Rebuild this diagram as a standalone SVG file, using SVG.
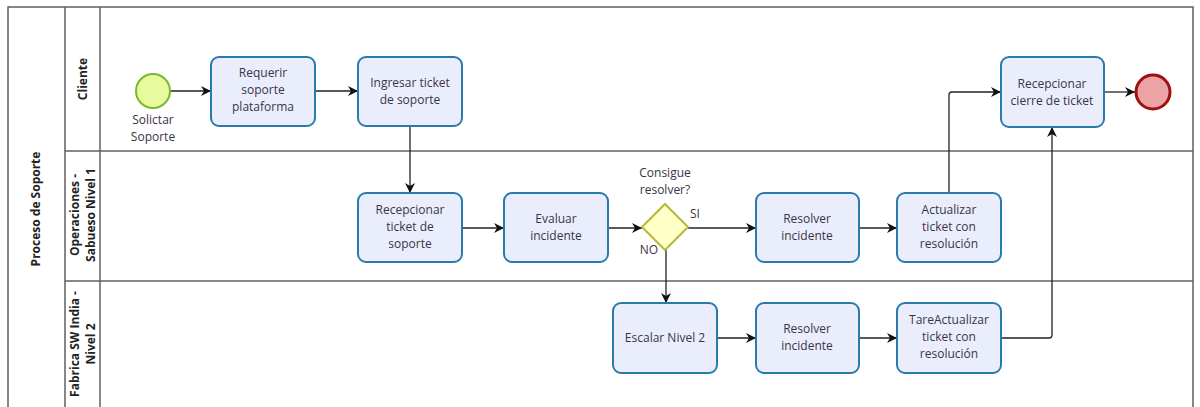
<svg xmlns="http://www.w3.org/2000/svg" width="1200" height="407" viewBox="0 0 1200 407">
<style>
.pool{fill:#fff;stroke:#5f5f5f;stroke-width:1.5}
.task rect{fill:#eaeefc;stroke:#2a7bab;stroke-width:2}
.t{font-family:"Open Sans","Noto Sans",sans-serif;font-size:12px;fill:#3a3346;text-anchor:middle}
.h{font-family:"Open Sans","Noto Sans",sans-serif;font-size:12px;font-weight:bold;fill:#222;text-anchor:middle}
.c{fill:none;stroke:#222;stroke-width:1.3}
</style>
<defs>
<marker id="ah" viewBox="0 0 10 10" refX="10" refY="5" markerWidth="10" markerHeight="10" markerUnits="userSpaceOnUse" orient="auto">
<path d="M0,0 L10,5 L0,10 L3,5 Z" fill="#111"/>
</marker>
</defs>
<g id="pool">
<rect class="pool" x="8" y="7" width="1185" height="410"/>
<line class="pool" x1="65" y1="7" x2="65" y2="407"/>
<line class="pool" x1="100" y1="7" x2="100" y2="407"/>
<line class="pool" x1="65" y1="151" x2="1193" y2="151"/>
<line class="pool" x1="65" y1="281" x2="1193" y2="281"/>
<text class="h" transform="translate(40,209) rotate(-90)">Proceso de Soporte</text>
<text class="h" transform="translate(87,79) rotate(-90)">Cliente</text>
<text class="h" transform="translate(79,215) rotate(-90)">Operaciones -</text>
<text class="h" transform="translate(95,215) rotate(-90)">Sabueso Nivel 1</text>
<text class="h" transform="translate(79,344) rotate(-90)">Fabrica SW India -</text>
<text class="h" transform="translate(95,344) rotate(-90)">Nivel 2</text>
</g>
<g id="connectors">
<line class="c" x1="170" y1="91" x2="211" y2="91" marker-end="url(#ah)"/>
<line class="c" x1="315" y1="91" x2="358" y2="91" marker-end="url(#ah)"/>
<line class="c" x1="410" y1="126" x2="410" y2="193" marker-end="url(#ah)"/>
<line class="c" x1="462" y1="228" x2="504" y2="228" marker-end="url(#ah)"/>
<line class="c" x1="608" y1="228" x2="642" y2="228" marker-end="url(#ah)"/>
<line class="c" x1="688" y1="228" x2="756" y2="228" marker-end="url(#ah)"/>
<line class="c" x1="859" y1="228" x2="897" y2="228" marker-end="url(#ah)"/>
<line class="c" x1="666" y1="250" x2="666" y2="303" marker-end="url(#ah)"/>
<line class="c" x1="717" y1="338" x2="756" y2="338" marker-end="url(#ah)"/>
<line class="c" x1="859" y1="338" x2="897" y2="338" marker-end="url(#ah)"/>
<path class="c" d="M949,193 V95 Q949,92 952,92 H1001" marker-end="url(#ah)"/>
<path class="c" d="M1001,338 H1049 Q1052,338 1052,335 V127" marker-end="url(#ah)"/>
<line class="c" x1="1104" y1="92" x2="1135" y2="92" marker-end="url(#ah)"/>
</g>
<g id="start">
<circle cx="153" cy="91" r="17" fill="#e8fa9e" stroke="#7cb82f" stroke-width="2"/>
<text class="t" x="153" y="124">Solictar</text>
<text class="t" x="153" y="141">Soporte</text>
</g>
<g id="task1" class="task"><rect x="211" y="57" width="104" height="69" rx="8"/>
<text class="t" x="263" y="77">Requerir</text><text class="t" x="263" y="94">soporte</text><text class="t" x="263" y="111">plataforma</text></g>
<g id="task2" class="task"><rect x="358" y="57" width="104" height="69" rx="8"/>
<text class="t" x="410" y="87">Ingresar ticket</text><text class="t" x="410" y="104">de soporte</text></g>
<g id="task3" class="task"><rect x="358" y="193" width="104" height="69" rx="8"/>
<text class="t" x="410" y="214">Recepcionar</text><text class="t" x="410" y="231">ticket de</text><text class="t" x="410" y="248">soporte</text></g>
<g id="task4" class="task"><rect x="504" y="193" width="104" height="69" rx="8"/>
<text class="t" x="556" y="223">Evaluar</text><text class="t" x="556" y="240">incidente</text></g>
<g id="gateway">
<path d="M665,204 L688,227 L665,250 L642,227 Z" fill="#ffffc8" stroke="#b8b83a" stroke-width="2"/>
<text class="t" x="665" y="177">Consigue</text><text class="t" x="665" y="194">resolver?</text>
<text class="t" x="695" y="218">SI</text>
<text class="t" x="649" y="254">NO</text>
</g>
<g id="task5" class="task"><rect x="756" y="193" width="103" height="69" rx="8"/>
<text class="t" x="807" y="223">Resolver</text><text class="t" x="807" y="240">incidente</text></g>
<g id="task6" class="task"><rect x="897" y="193" width="104" height="69" rx="8"/>
<text class="t" x="949" y="214">Actualizar</text><text class="t" x="949" y="231">ticket con</text><text class="t" x="949" y="248">resolución</text></g>
<g id="task7" class="task"><rect x="613" y="303" width="104" height="70" rx="8"/>
<text class="t" x="665" y="342">Escalar Nivel 2</text></g>
<g id="task8" class="task"><rect x="756" y="303" width="103" height="70" rx="8"/>
<text class="t" x="807" y="333">Resolver</text><text class="t" x="807" y="350">incidente</text></g>
<g id="task9" class="task"><rect x="897" y="303" width="104" height="70" rx="8"/>
<text class="t" x="949" y="324">TareActualizar</text><text class="t" x="949" y="341">ticket con</text><text class="t" x="949" y="358">resolución</text></g>
<g id="task10" class="task"><rect x="1001" y="57" width="103" height="70" rx="8"/>
<text class="t" x="1052" y="88">Recepcionar</text><text class="t" x="1052" y="105">cierre de ticket</text></g>
<g id="end">
<circle cx="1153" cy="92" r="17" fill="#eba3a6" stroke="#a01010" stroke-width="3"/>
</g>
</svg>
